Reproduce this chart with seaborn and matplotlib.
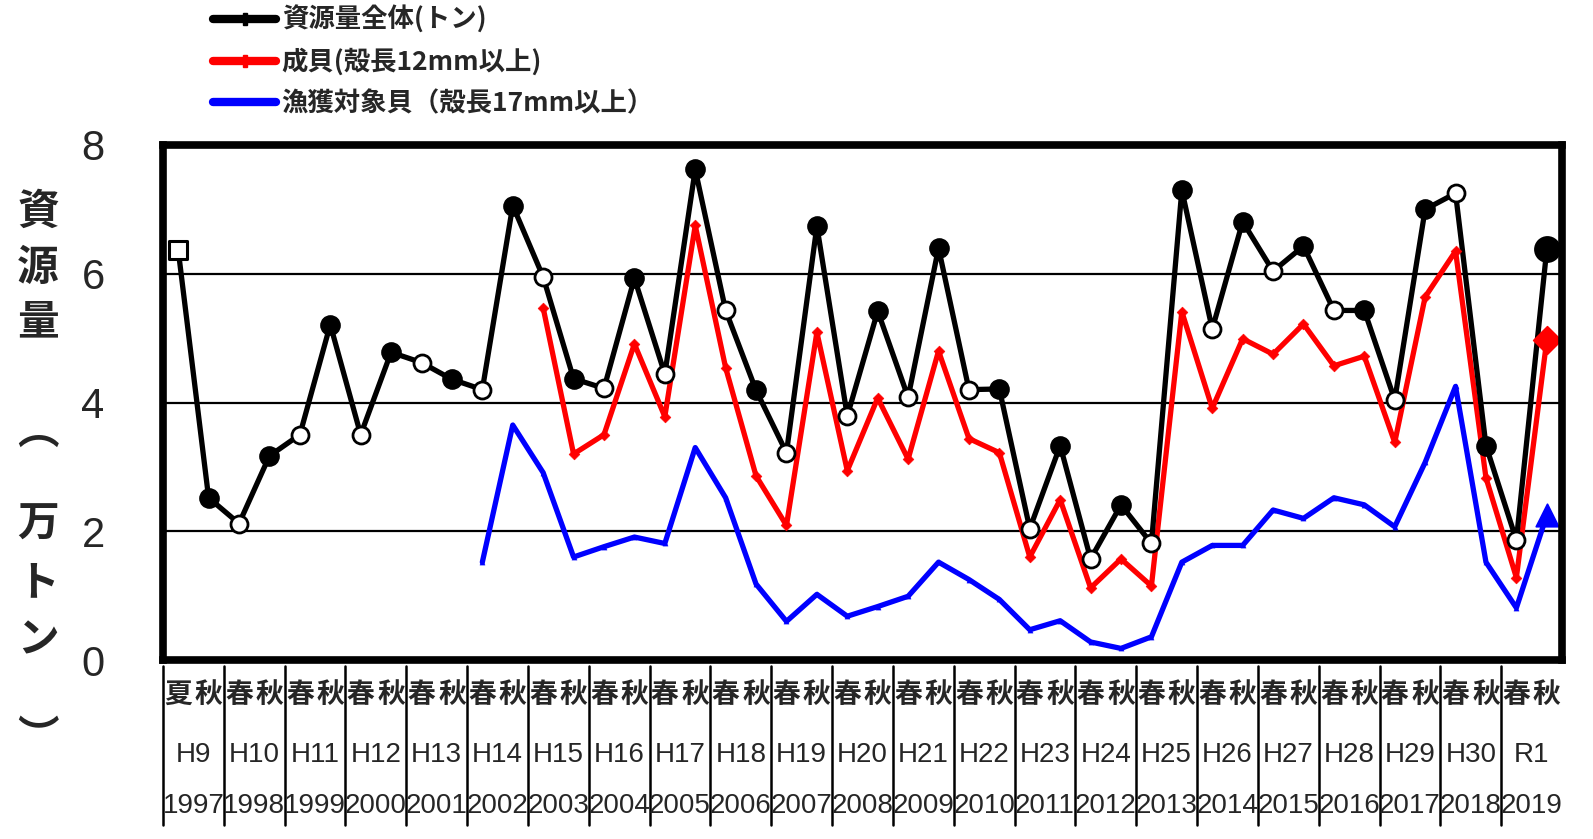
import numpy as np
import pandas as pd
import matplotlib
matplotlib.use("Agg")
import matplotlib.pyplot as plt
from matplotlib.lines import Line2D
import seaborn as sns

# --- data (万トン) ---
year_labels = ["H9", "H10", "H11", "H12", "H13", "H14", "H15", "H16", "H17", "H18", "H19", "H20",
               "H21", "H22", "H23", "H24", "H25", "H26", "H27", "H28", "H29", "H30", "R1"]
ad_years = ["1997", "1998", "1999", "2000", "2001", "2002", "2003", "2004", "2005", "2006", "2007", "2008",
            "2009", "2010", "2011", "2012", "2013", "2014", "2015", "2016", "2017", "2018", "2019"]
seasons = ["夏", "秋"] + ["春", "秋"] * 22

total = [6.37, 2.52, 2.12, 3.17, 3.50, 5.21, 3.50, 4.78, 4.62, 4.36, 4.20, 7.06, 5.95, 4.37, 4.22, 5.93,
         4.44, 7.62, 5.43, 4.19, 3.22, 6.74, 3.79, 5.42, 4.08, 6.40, 4.20, 4.21, 2.04, 3.33, 1.57, 2.41,
         1.81, 7.30, 5.14, 6.81, 6.04, 6.43, 5.43, 5.43, 4.04, 7.00, 7.25, 3.33, 1.86, 6.38]

adult_start = 12  # 成貝 starts at H15春
adult = [5.47, 3.20, 3.50, 4.91, 3.78, 6.75, 4.54, 2.86, 2.09, 5.09, 2.94, 4.07, 3.12, 4.80, 3.44, 3.22,
         1.60, 2.49, 1.12, 1.57, 1.15, 5.41, 3.91, 4.99, 4.75, 5.22, 4.57, 4.72, 3.38, 5.64, 6.35, 2.83,
         1.28, 4.97]

fishery_start = 10  # 漁獲対象貝 starts at H14春
fishery = [1.52, 3.65, 2.91, 1.60, 1.76, 1.91, 1.81, 3.30, 2.52, 1.18, 0.60, 1.02, 0.68, 0.83, 0.99, 1.52,
           1.25, 0.94, 0.47, 0.61, 0.28, 0.18, 0.36, 1.52, 1.78, 1.78, 2.33, 2.20, 2.52, 2.41, 2.07, 3.07,
           4.25, 1.52, 0.81, 2.25]

names = {"total": "資源量全体(トン)", "adult": "成貝(殻長12mm以上)", "fishery": "漁獲対象貝（殻長17mm以上）"}
colors = {"total": "black", "adult": "#ff0000", "fishery": "#0000ff"}

# long table for seaborn
rows = []
for key, vals, start in [("fishery", fishery, fishery_start), ("adult", adult, adult_start), ("total", total, 0)]:
    for j, v in enumerate(vals):
        rows.append({"series": key, "pos": start + j, "value": v, "season": seasons[start + j]})
df = pd.DataFrame(rows)

sns.set_style("white")
plt.rcParams["font.family"] = ["Noto Sans CJK JP", "DejaVu Sans"]

W, H = 1593, 839
fig, ax = plt.subplots(figsize=(W / 100, H / 100), dpi=100)
fig.subplots_adjust(left=163 / W, right=1562 / W, bottom=1 - 660 / H, top=1 - 145 / H)

sns.lineplot(data=df, x="pos", y="value", hue="series", hue_order=["fishery", "adult", "total"],
             palette=colors, linewidth=3.8, legend=False, estimator=None, sort=False, ax=ax, zorder=3)

last = len(seasons) - 1
tot = df[df.series == "total"]
red = df[df.series == "adult"]
blu = df[df.series == "fishery"]

# small markers on red / blue
sns.scatterplot(data=red[red.pos < last], x="pos", y="value", marker="D", s=30, color=colors["adult"],
                edgecolor=colors["adult"], ax=ax, zorder=4)
sns.scatterplot(data=blu[blu.pos < last], x="pos", y="value", marker="^", s=14, color=colors["fishery"],
                edgecolor=colors["fishery"], ax=ax, zorder=4)
# black: 秋 filled, 春 hollow, 夏 hollow square
sns.scatterplot(data=tot[(tot.season == "秋") & (tot.pos < last)], x="pos", y="value", marker="o", s=190,
                color="black", edgecolor="black", ax=ax, zorder=5)
sns.scatterplot(data=tot[tot.season == "春"], x="pos", y="value", marker="o", s=150,
                color="white", edgecolor="black", linewidth=2, ax=ax, zorder=5)
sns.scatterplot(data=tot[tot.season == "夏"], x="pos", y="value", marker="s", s=150,
                color="white", edgecolor="black", linewidth=2.2, ax=ax, zorder=5)
# latest values drawn larger
sns.scatterplot(data=tot[tot.pos == last], x="pos", y="value", marker="o", s=320, color="black",
                edgecolor="black", ax=ax, zorder=6)
sns.scatterplot(data=red[red.pos == last], x="pos", y="value", marker="D", s=200, color=colors["adult"],
                edgecolor=colors["adult"], ax=ax, zorder=6)
sns.scatterplot(data=blu[blu.pos == last], x="pos", y="value", marker="^", s=260, color=colors["fishery"],
                edgecolor=colors["fishery"], ax=ax, zorder=6)

ax.set_xlim(-0.5, len(seasons) - 0.5)
ax.set_ylim(0, 8)
ax.set_xticks([])
ax.set_yticks([0, 2, 4, 6, 8])
ax.set_xlabel("")
ax.set_ylabel("")
ax.yaxis.grid(True, color="black", linewidth=1.6)
ax.set_axisbelow(True)
ax.tick_params(axis="y", length=0, pad=42, labelsize=30)
for lab in ax.get_yticklabels():
    lab.set_fontfamily("Liberation Sans")
for sp in ax.spines.values():
    sp.set_visible(True)
    sp.set_linewidth(5.5)
    sp.set_color("black")
    sp.set_zorder(7)

# category table under the axis
tr = ax.get_xaxis_transform()
for k in range(len(year_labels)):
    ax.plot([2 * k - 0.5] * 2, [-0.012, -0.32], transform=tr, clip_on=False, color="black", lw=1.8)
for i, s in enumerate(seasons):
    ax.text(i, -0.068, s, transform=tr, ha="center", va="center", fontsize=20, fontweight="bold")
for k, (yl, ad) in enumerate(zip(year_labels, ad_years)):
    ax.text(2 * k + 0.5, -0.185, yl, transform=tr, ha="center", va="center", fontsize=20,
            family="Liberation Sans")
    ax.text(2 * k + 0.5, -0.283, ad, transform=tr, ha="center", va="center", fontsize=20,
            family="Liberation Sans")

# vertical y label
ylab_chars = ["資", "源", "量", "︵", "万", "ト", "ン", "︶"]
ylab_y = [212, 268, 322, 432, 525, 583, 640, 738]
for ch, yy in zip(ylab_chars, ylab_y):
    fig.text(38 / W, 1 - yy / H, ch, ha="center", va="center", fontsize=30, fontweight="bold")

# legend
handles = [
    Line2D([], [], color="black", lw=6, marker="P", markersize=9),
    Line2D([], [], color=colors["adult"], lw=6, marker="P", markersize=9),
    Line2D([], [], color=colors["fishery"], lw=6),
]
fig.legend(handles, [names["total"], names["adult"], names["fishery"]], loc="upper left",
           bbox_to_anchor=(213 / W, 1 - 6 / H), frameon=False, handlelength=2.4,
           handletextpad=0.2, labelspacing=0.55, borderpad=0, borderaxespad=0,
           prop={"weight": "bold", "size": 19})

fig.savefig("out.png", dpi=100)
